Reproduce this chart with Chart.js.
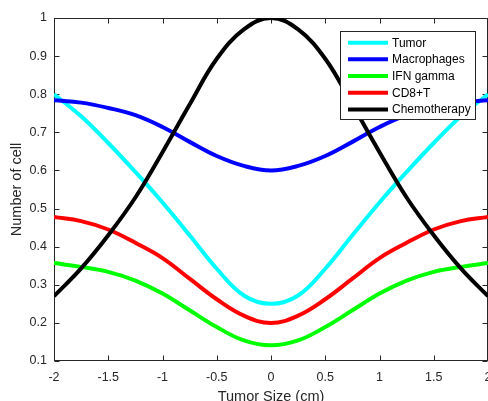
<!DOCTYPE html>
<html>
<head>
<meta charset="utf-8">
<script src="https://cdn.jsdelivr.net/npm/chart.js@4.4.1/dist/chart.umd.min.js"></script>
<style>
  html, body { margin: 0; padding: 0; background: #fff; overflow: hidden; }
  #wrap { position: absolute; left: 0; top: 0; width: 520px; height: 406px; }
</style>
</head>
<body>
<div id="wrap"><canvas id="cellChart"></canvas></div>
<script>
// values
const tumorSize = [-2, -1.75, -1.5, -1.25, -1, -0.75, -0.5, -0.25, 0, 0.25, 0.5, 0.75, 1, 1.25, 1.5, 1.75, 2];
const tumor        = [0.800, 0.742, 0.672, 0.596, 0.516, 0.430, 0.342, 0.272, 0.250, 0.272, 0.342, 0.430, 0.516, 0.596, 0.672, 0.742, 0.800];
const macrophages  = [0.784, 0.778, 0.764, 0.745, 0.714, 0.675, 0.638, 0.612, 0.600, 0.612, 0.638, 0.675, 0.714, 0.745, 0.764, 0.778, 0.784];
const ifnGamma     = [0.357, 0.347, 0.334, 0.311, 0.277, 0.233, 0.189, 0.154, 0.141, 0.154, 0.189, 0.233, 0.277, 0.311, 0.334, 0.347, 0.357];
const cd8T         = [0.478, 0.467, 0.445, 0.410, 0.370, 0.316, 0.262, 0.219, 0.200, 0.219, 0.262, 0.316, 0.370, 0.410, 0.445, 0.467, 0.478];
const chemotherapy = [0.270, 0.343, 0.430, 0.529, 0.648, 0.773, 0.893, 0.970, 1.000, 0.970, 0.893, 0.773, 0.648, 0.529, 0.430, 0.343, 0.270];

const xTicks = [-2, -1.5, -1, -0.5, 0, 0.5, 1, 1.5, 2];
const xTickLabels = ['-2', '-1.5', '-1', '-0.5', '0', '0.5', '1', '1.5', '2'];
const yTicks = [0.1, 0.2, 0.3, 0.4, 0.5, 0.6, 0.7, 0.8, 0.9, 1];
const yTickLabels = ['0.1', '0.2', '0.3', '0.4', '0.5', '0.6', '0.7', '0.8', '0.9', '1'];

const AXIS = '#262626';
const FONT = '"Liberation Sans", Arial, Helvetica, sans-serif';

function series(label, values, color, order) {
    return {
        label, order,
        data: tumorSize.map((x, i) => ({ x, y: values[i] })),
        borderColor: color, backgroundColor: color,
        borderWidth: 4, pointRadius: 0, fill: false,
        tension: 0.4
    };
}

// MATLAB-like box with inward ticks
const boxAxes = {
    id: 'boxAxes',
    beforeDatasetsDraw(chart) {
        const { ctx, chartArea: a, scales } = chart;
        const L = Math.round(a.left) + 0.5, R = Math.round(a.right) - 0.5;
        const T = Math.round(a.top) + 0.5, B = Math.round(a.bottom) - 0.5;
        ctx.save();
        ctx.strokeStyle = AXIS; ctx.lineWidth = 1;
        ctx.strokeRect(L, T, R - L, B - T);
        ctx.beginPath();
        xTicks.forEach(v => {
            const px = Math.round(scales.x.getPixelForValue(v)) + 0.5;
            ctx.moveTo(px, B); ctx.lineTo(px, B - 5);
            ctx.moveTo(px, T); ctx.lineTo(px, T + 5);
        });
        yTicks.forEach(v => {
            const py = Math.round(scales.y.getPixelForValue(v)) + 0.5;
            ctx.moveTo(L, py); ctx.lineTo(L + 5, py);
            ctx.moveTo(R, py); ctx.lineTo(R - 5, py);
        });
        ctx.stroke();
        ctx.restore();
    }
};

const boxLegend = {
    id: 'boxLegend',
    afterDatasetsDraw(chart) {
        const { ctx } = chart;
        const x0 = 340, y0 = 31, w = 135, h = 88, rowH = 16.67;
        ctx.save();
        ctx.fillStyle = '#fff';
        ctx.fillRect(x0, y0, w, h);
        ctx.strokeStyle = AXIS; ctx.lineWidth = 1;
        ctx.strokeRect(x0 + 0.5, y0 + 0.5, w, h);
        ctx.font = '12px ' + FONT;
        ctx.textBaseline = 'middle';
        ctx.textAlign = 'left';
        chart.data.datasets.forEach((ds, i) => {
            const y = y0 + 11.7 + i * rowH;
            ctx.strokeStyle = ds.borderColor; ctx.lineWidth = 4;
            ctx.beginPath(); ctx.moveTo(348, y); ctx.lineTo(388, y); ctx.stroke();
            ctx.fillStyle = '#000';
            ctx.fillText(ds.label, 392, y + 0.5);
        });
        ctx.restore();
    }
};

new Chart(document.getElementById('cellChart'), {
    type: 'line',
    data: {
        datasets: [
            series('Tumor', tumor, '#00ffff', 5),
            series('Macrophages', macrophages, '#0000ff', 4),
            series('IFN gamma', ifnGamma, '#00ff00', 3),
            series('CD8+T', cd8T, '#ff0000', 2),
            series('Chemotherapy', chemotherapy, '#000000', 1)
        ]
    },
    options: {
        responsive: true, maintainAspectRatio: false, animation: false,
        layout: { padding: { left: 0, right: 32, top: 18, bottom: 0 } },
        plugins: { legend: { display: false }, tooltip: { enabled: false } },
        scales: {
            x: {
                type: 'linear', min: -2, max: 2,
                afterBuildTicks: s => { s.ticks = xTicks.map(v => ({ value: v })); },
                afterFit: s => { s.height = 45; },
                ticks: { callback: (v, i) => xTickLabels[i], color: AXIS, padding: 9, maxRotation: 0, autoSkip: false, font: { family: FONT, size: 12.5 } },
                grid: { display: false, drawTicks: false },
                border: { display: false },
                title: { display: true, text: 'Tumor Size (cm)', color: AXIS, padding: 0, font: { family: FONT, size: 14.5 } }
            },
            y: {
                type: 'linear', min: 0.1, max: 1,
                afterBuildTicks: s => { s.ticks = yTicks.map(v => ({ value: v })); },
                afterFit: s => { s.width = 54; },
                ticks: { callback: (v, i) => yTickLabels[i], color: AXIS, padding: 7, autoSkip: false, font: { family: FONT, size: 12.5 } },
                grid: { display: false, drawTicks: false },
                border: { display: false },
                title: { display: true, text: 'Number of cell', color: AXIS, padding: { top: 8, bottom: 0 }, font: { family: FONT, size: 14.5 } }
            }
        }
    },
    plugins: [boxAxes, boxLegend]
});
</script>
</body>
</html>
